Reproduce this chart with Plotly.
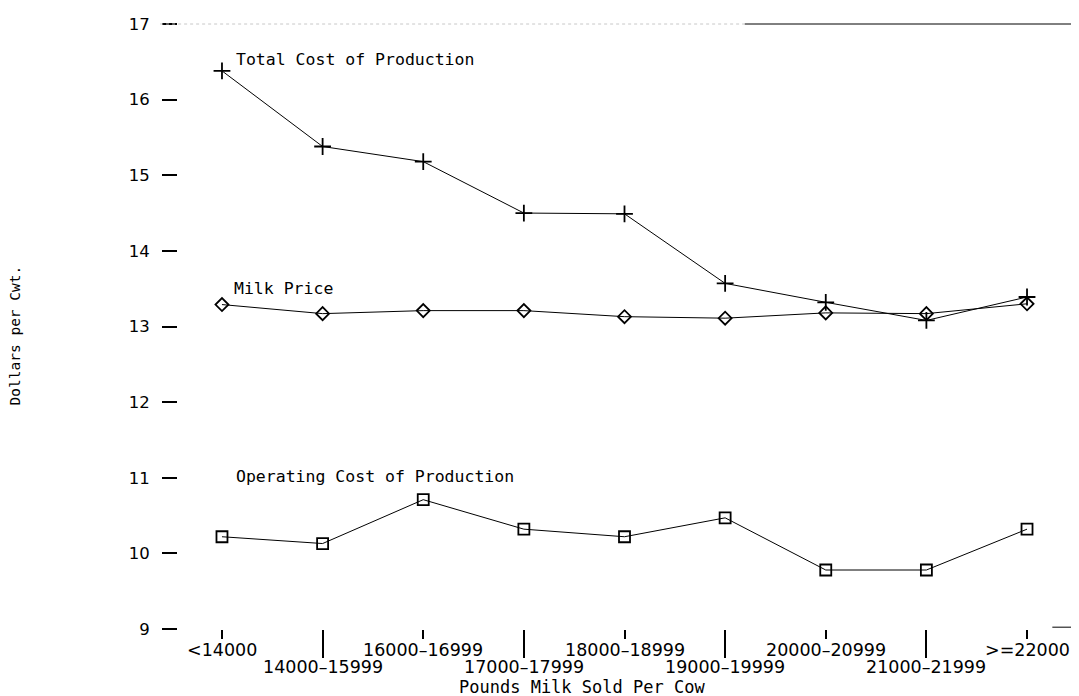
import plotly.graph_objects as go

categories = ["<14000", "14000\u201315999", "16000\u201316999", "17000\u201317999",
              "18000\u201318999", "19000\u201319999", "20000\u201320999",
              "21000\u201321999", ">=22000"]
total_cost = [16.38, 15.38, 15.18, 14.50, 14.49, 13.57, 13.32, 13.08, 13.39]
milk_price = [13.29, 13.17, 13.21, 13.21, 13.13, 13.11, 13.18, 13.17, 13.30]
operating_cost = [10.22, 10.13, 10.71, 10.32, 10.22, 10.47, 9.78, 9.78, 10.32]
y_ticks = [9, 10, 11, 12, 13, 14, 15, 16, 17]

xs = list(range(len(categories)))
MONO = "DejaVu Sans Mono"
SANS = "DejaVu Sans"

fig = go.Figure()
line = dict(color="black", width=1)
fig.add_trace(go.Scatter(x=xs, y=total_cost, mode="lines+markers", line=line,
                         marker=dict(symbol="cross-thin", size=12,
                                     line=dict(color="black", width=1.8))))
fig.add_trace(go.Scatter(x=xs, y=milk_price, mode="lines+markers", line=line,
                         marker=dict(symbol="diamond-open", size=10, color="black",
                                     line=dict(color="black", width=1.8))))
fig.add_trace(go.Scatter(x=xs, y=operating_cost, mode="lines+markers", line=line,
                         marker=dict(symbol="square-open", size=11, color="black",
                                     line=dict(color="black", width=1.8))))

# series labels
labels = [("Total Cost of Production", total_cost[0], 13, 11),
          ("Milk Price", milk_price[0], 11, 16),
          ("Operating Cost of Production", operating_cost[0], 13, 60)]
for txt, yv, dx, dy in labels:
    fig.add_annotation(x=0, y=yv, text=txt, showarrow=False, xanchor="left",
                       yanchor="middle", xshift=dx - 1, yshift=dy,
                       font=dict(family=MONO, size=16.5, color="black"))

# category labels in two rows
for i, c in enumerate(categories):
    row = i % 2
    fig.add_annotation(x=i, y=0, xref="x", yref="paper", text=c,
                       showarrow=False, yanchor="middle",
                       yshift=-21 if row == 0 else -38,
                       font=dict(family=SANS, size=17.5, color="black"))

fig.add_annotation(x=(582 - 178) / 894, y=0, xref="paper", yref="paper",
                   text="Pounds Milk Sold Per Cow", showarrow=False,
                   yanchor="middle", yshift=-58,
                   font=dict(family=MONO, size=17, color="black"))
fig.add_annotation(x=(5 - 178) / 894, y=(629 - 333) / 610, xref="paper", yref="paper",
                   text="Dollars per Cwt.", showarrow=False, textangle=-90,
                   font=dict(family=MONO, size=14.5, color="black"))

# frame remnants
fig.add_shape(type="line", xref="paper", yref="paper", x0=-0.02, x1=0.634, y0=1, y1=1,
              line=dict(color="#c8c8c8", width=1, dash="dot"))
fig.add_shape(type="line", xref="paper", yref="paper", x0=0.634, x1=1.01, y0=1, y1=1,
              line=dict(color="black", width=1))
fig.add_shape(type="line", xref="paper", yref="paper", x0=0.978, x1=1.01, y0=0.003, y1=0.003,
              line=dict(color="black", width=1))

fig.update_xaxes(range=[-0.437, 8.447], showgrid=False, zeroline=False, showline=False,
                 tickvals=[0, 2, 4, 6, 8], ticktext=[""] * 5, ticks="outside",
                 ticklen=9, tickwidth=2, tickcolor="black",
                 minor=dict(tickvals=[1, 3, 5, 7], ticks="outside", ticklen=28,
                            tickwidth=2, tickcolor="black"))
fig.update_yaxes(range=[9, 17], showgrid=False, zeroline=False, showline=False,
                 tickvals=y_ticks, ticks="outside", ticklen=15, tickwidth=2,
                 tickcolor="black", ticklabelstandoff=9,
                 tickfont=dict(family=SANS, size=16.5, color="black"))

fig.update_layout(width=1071, height=688, showlegend=False,
                  paper_bgcolor="white", plot_bgcolor="white",
                  margin=dict(l=170, r=7, t=11, b=67), autosize=False)

fig.write_html("out.html")
